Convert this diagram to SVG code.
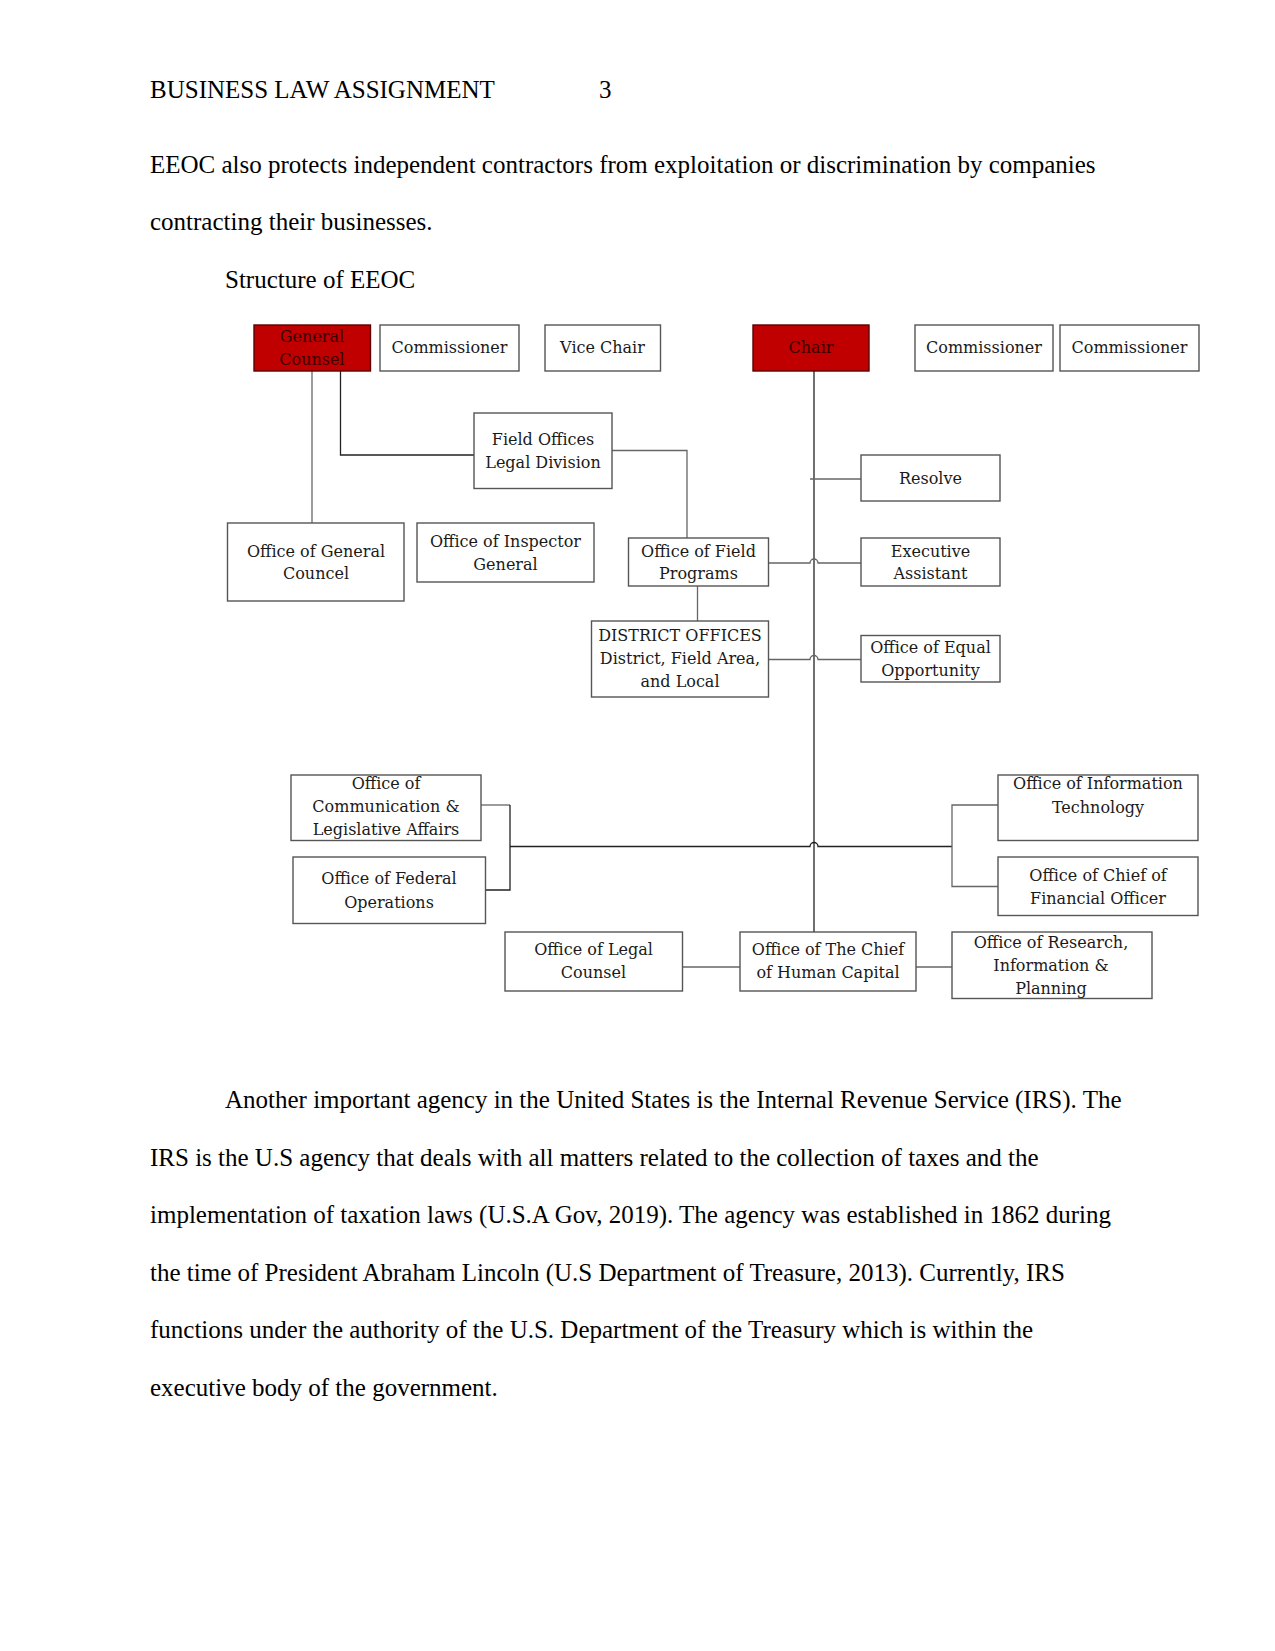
<svg xmlns="http://www.w3.org/2000/svg" width="1275" height="1651" viewBox="0 0 1275 1651">
<style>
.body{font-family:"Liberation Serif","Times New Roman",serif;font-size:25px;fill:#000}
.box{fill:#fff;stroke:#555;stroke-width:1.4}
.red{fill:#c00000;stroke:#5a0000;stroke-width:1.4}
.t{font-family:"DejaVu Serif","Liberation Serif",serif;font-size:16px;fill:#1a1a1a;text-anchor:middle}
.tr{font-family:"DejaVu Serif","Liberation Serif",serif;font-size:16px;fill:#3a0000;text-anchor:middle}
.ln{fill:none;stroke:#222;stroke-width:1.3}
.lg{fill:none;stroke:#666;stroke-width:1.3}
</style>
<rect width="1275" height="1651" fill="#fff"/>
<text class="body" x="150" y="98">BUSINESS LAW ASSIGNMENT</text>
<text class="body" x="599" y="98">3</text>
<text class="body" x="150" y="173">EEOC also protects independent contractors from exploitation or discrimination by companies</text>
<text class="body" x="150" y="229.5">contracting their businesses.</text>
<text class="body" x="225" y="287.5">Structure of EEOC</text>

<g id="connectors">
<path class="lg" d="M312 371V523"/>
<path class="ln" d="M340.5 371V455H474"/>
<path class="lg" d="M612 450.5H687V538"/>
<path class="ln" d="M814 371V932"/>
<path class="lg" d="M810 479H861"/>
<path class="lg" d="M768.5 563H810a4 4 0 0 1 8 0H861"/>
<path class="lg" d="M697.5 586V621"/>
<path class="lg" d="M768.5 659.5H810a4 4 0 0 1 8 0H861"/>
<path class="lg" d="M481 805H510"/>
<path class="ln" d="M510 805V890H485.5"/>
<path class="ln" d="M510 846.5H810a4 4 0 0 1 8 0H952"/>
<path class="lg" d="M998 805H952V886.5H998"/>
<path class="lg" d="M682.5 967H740"/>
<path class="lg" d="M916 967H952"/>
</g>

<g id="general-counsel"><rect class="red" x="254" y="325" width="116.5" height="46"/><text class="tr" x="312" y="341.5">General</text><text class="tr" x="312" y="364.5">Counsel</text></g>
<g id="commissioner-1"><rect class="box" x="380" y="325" width="139" height="46"/><text class="t" x="449.5" y="353">Commissioner</text></g>
<g id="vice-chair"><rect class="box" x="545" y="325" width="115.5" height="46"/><text class="t" x="602.5" y="353">Vice Chair</text></g>
<g id="chair"><rect class="red" x="753" y="325" width="116" height="46"/><text class="tr" x="811" y="353">Chair</text></g>
<g id="commissioner-2"><rect class="box" x="915" y="325" width="138" height="46"/><text class="t" x="984" y="353">Commissioner</text></g>
<g id="commissioner-3"><rect class="box" x="1060" y="325" width="139" height="46"/><text class="t" x="1129.5" y="353">Commissioner</text></g>
<g id="field-offices-legal"><rect class="box" x="474" y="413" width="138" height="75.5"/><text class="t" x="543" y="444.5">Field Offices</text><text class="t" x="543" y="467.5">Legal Division</text></g>
<g id="resolve"><rect class="box" x="861" y="455" width="139" height="46"/><text class="t" x="930.5" y="484">Resolve</text></g>
<g id="office-general-councel"><rect class="box" x="227.5" y="523" width="176.5" height="78"/><text class="t" x="316" y="556.5">Office of General</text><text class="t" x="316" y="578.5">Councel</text></g>
<g id="office-inspector-general"><rect class="box" x="417" y="523" width="177" height="59"/><text class="t" x="505.5" y="547">Office of Inspector</text><text class="t" x="505.5" y="570">General</text></g>
<g id="office-field-programs"><rect class="box" x="628.5" y="538" width="140" height="48"/><text class="t" x="698.5" y="556.5">Office of Field</text><text class="t" x="698.5" y="578.5">Programs</text></g>
<g id="executive-assistant"><rect class="box" x="861" y="538" width="139" height="48"/><text class="t" x="930.5" y="556.5">Executive</text><text class="t" x="930.5" y="578.5">Assistant</text></g>
<g id="district-offices"><rect class="box" x="591.5" y="621" width="177" height="76"/><text class="t" x="680" y="641">DISTRICT OFFICES</text><text class="t" x="680" y="664">District, Field Area,</text><text class="t" x="680" y="687">and Local</text></g>
<g id="office-equal-opportunity"><rect class="box" x="861" y="635.5" width="139" height="46.5"/><text class="t" x="930.5" y="652.5">Office of Equal</text><text class="t" x="930.5" y="675.5">Opportunity</text></g>
<g id="office-communication"><rect class="box" x="291" y="775" width="190" height="65.5"/><text class="t" x="386" y="789">Office of</text><text class="t" x="386" y="811.5">Communication &amp;</text><text class="t" x="386" y="834.5">Legislative Affairs</text></g>
<g id="office-federal-operations"><rect class="box" x="293" y="857" width="192.5" height="66.5"/><text class="t" x="389" y="883.5">Office of Federal</text><text class="t" x="389" y="907.5">Operations</text></g>
<g id="office-information-technology"><rect class="box" x="998" y="775" width="200" height="65.5"/><text class="t" x="1098" y="789">Office of Information</text><text class="t" x="1098" y="812.5">Technology</text></g>
<g id="office-chief-financial"><rect class="box" x="998" y="857" width="200" height="58.5"/><text class="t" x="1098" y="880.5">Office of Chief of</text><text class="t" x="1098" y="903.5">Financial Officer</text></g>
<g id="office-legal-counsel"><rect class="box" x="505" y="932" width="177.5" height="59"/><text class="t" x="593.5" y="955">Office of Legal</text><text class="t" x="593.5" y="978">Counsel</text></g>
<g id="office-human-capital"><rect class="box" x="740" y="932" width="176" height="59"/><text class="t" x="828" y="955">Office of The Chief</text><text class="t" x="828" y="978">of Human Capital</text></g>
<g id="office-research"><rect class="box" x="952" y="932" width="200" height="66.5"/><text class="t" x="1051" y="947.5">Office of Research,</text><text class="t" x="1051" y="970.5">Information &amp;</text><text class="t" x="1051" y="994">Planning</text></g>

<text class="body" x="225" y="1108">Another important agency in the United States is the Internal Revenue Service (IRS). The</text>
<text class="body" x="150" y="1165.5">IRS is the U.S agency that deals with all matters related to the collection of taxes and the</text>
<text class="body" x="150" y="1223">implementation of taxation laws (U.S.A Gov, 2019). The agency was established in 1862 during</text>
<text class="body" x="150" y="1280.5">the time of President Abraham Lincoln (U.S Department of Treasure, 2013). Currently, IRS</text>
<text class="body" x="150" y="1338">functions under the authority of the U.S. Department of the Treasury which is within the</text>
<text class="body" x="150" y="1395.5">executive body of the government.</text>
</svg>
